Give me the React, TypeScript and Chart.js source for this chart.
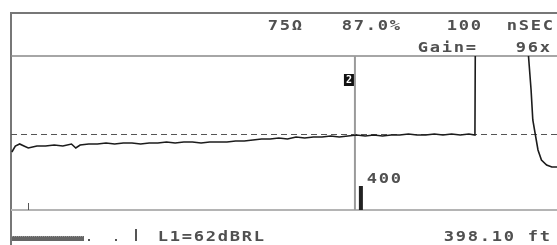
import { useEffect, useRef } from "react";
import { Chart, registerables } from "chart.js";

Chart.register(...registerables);

// Distance along the cable (ft) and reflection amplitude (screen units, 0 = reference level)
const distanceFt = [
  1, 5, 10, 15, 20, 25, 30, 40, 50, 60, 70, 75, 80, 90, 100, 110, 120, 130, 140, 150,
  160, 170, 180, 190, 200, 210, 220, 230, 240, 250, 260, 270, 280, 290, 300, 310, 320,
  330, 340, 350, 360, 370, 380, 390, 400, 410, 420, 430, 440, 450, 460, 470, 480, 490,
  500, 510, 520, 530, 537, 538, 597, 599, 602, 604, 607, 610, 614, 620, 626, 632,
];
const reflection = [
  -18, -12, -10, -12, -14, -13, -12, -12, -11, -12, -10, -14, -11, -10, -10, -9, -10, -9, -9, -10,
  -9, -9, -8, -9, -8, -8, -9, -8, -8, -8, -7, -7, -6, -5, -5, -4, -5,
  -3, -4, -3, -3, -2, -3, -2, -1, -2, -1, -2, -1, -1, 0, -1, -1, 0,
  -1, 0, -1, 0, -1, 200, 200, 78, 44, 14, -1, -16, -26, -31, -33, -33,
];

const xRange = [0, 632];
const yRange = [-76, 78];
const referenceLevel = 0;
const cursorFt = 398.1;
const distanceMarkerFt = 405;
const distanceMarkerLabel = "400";
const startTickFt = 20;
const cursorTag = "2";

const headerTop = [
  { text: "75Ω", x: 268 },
  { text: "87.0%", x: 342 },
  { text: "100", x: 447 },
  { text: "nSEC", x: 507 },
];
const headerBottom = [
  { text: "Gain=", x: 418 },
  { text: "96x", x: 516 },
];
const footerLeft = "L1=62dBRL";
const footerRight = "398.10 ft";

const FONT = "bold 14px 'DejaVu Sans Mono'";
const CELL = 12;

function drawMono(ctx: CanvasRenderingContext2D, text: string, x: number, y: number, color = "#505050") {
  ctx.save();
  ctx.font = FONT;
  ctx.fillStyle = color;
  ctx.textAlign = "center";
  ctx.textBaseline = "alphabetic";
  Array.from(text).forEach((ch, i) => {
    ctx.save();
    ctx.translate(x + i * CELL + CELL / 2 - 1, y);
    ctx.scale(1.22, 1);
    ctx.fillText(ch, 0, 0);
    ctx.restore();
  });
  ctx.restore();
}

const screenPlugin = {
  id: "tdrScreen",
  beforeDatasetsDraw(chart: any) {
    const { ctx, chartArea } = chart;
    const xs = chart.scales.x;
    const ys = chart.scales.y;
    const W = chart.width;
    const H = chart.height;
    ctx.save();
    ctx.strokeStyle = "#777";
    ctx.lineWidth = 2;
    ctx.beginPath();
    ctx.moveTo(11, H);
    ctx.lineTo(11, 13);
    ctx.lineTo(W, 13);
    ctx.stroke();
    ctx.strokeStyle = "#888";
    ctx.lineWidth = 1.5;
    ctx.beginPath();
    ctx.moveTo(11, chartArea.top);
    ctx.lineTo(W, chartArea.top);
    ctx.stroke();
    ctx.strokeStyle = "#b4b4b4";
    ctx.lineWidth = 2;
    ctx.beginPath();
    ctx.moveTo(11, chartArea.bottom);
    ctx.lineTo(W, chartArea.bottom);
    ctx.stroke();
    const yRef = ys.getPixelForValue(referenceLevel);
    ctx.strokeStyle = "#555";
    ctx.lineWidth = 1;
    ctx.setLineDash([6, 4]);
    ctx.beginPath();
    ctx.moveTo(chartArea.left, yRef + 0.5);
    ctx.lineTo(chartArea.right, yRef + 0.5);
    ctx.stroke();
    ctx.setLineDash([]);
    const cx = xs.getPixelForValue(cursorFt);
    ctx.strokeStyle = "#9a9a9a";
    ctx.lineWidth = 2;
    ctx.beginPath();
    ctx.moveTo(cx, chartArea.top);
    ctx.lineTo(cx, chartArea.bottom);
    ctx.stroke();
    ctx.restore();
  },
  afterDatasetsDraw(chart: any) {
    const { ctx, chartArea } = chart;
    const xs = chart.scales.x;
    ctx.save();
    const cx = xs.getPixelForValue(cursorFt);
    ctx.fillStyle = "#111";
    ctx.fillRect(cx - 11, chartArea.top + 18, 10, 12);
    ctx.fillStyle = "#fff";
    ctx.font = "bold 10px 'DejaVu Sans Mono'";
    ctx.textAlign = "center";
    ctx.textBaseline = "middle";
    ctx.fillText(cursorTag, cx - 6, chartArea.top + 24.5);
    const mx = xs.getPixelForValue(distanceMarkerFt);
    ctx.fillStyle = "#222";
    ctx.fillRect(mx - 2, chartArea.bottom - 24, 4, 24);
    drawMono(ctx, distanceMarkerLabel, mx + 6, chartArea.bottom - 27);
    const sx = xs.getPixelForValue(startTickFt);
    ctx.fillStyle = "#555";
    ctx.fillRect(Math.round(sx), chartArea.bottom - 7, 1, 7);
    headerTop.forEach((t) => drawMono(ctx, t.text, t.x, 30));
    headerBottom.forEach((t) => drawMono(ctx, t.text, t.x, 52));
    ctx.fillStyle = "#666";
    ctx.fillRect(12, 236, 72, 5);
    ctx.fillStyle = "#999";
    for (let i = 12; i < 84; i += 2) ctx.fillRect(i, 236, 1, 1);
    ctx.fillStyle = "#555";
    ctx.fillRect(88, 239, 2, 2);
    ctx.fillRect(115, 239, 2, 2);
    ctx.fillRect(135, 229, 2, 12);
    drawMono(ctx, footerLeft, 158, 241);
    drawMono(ctx, footerRight, 444, 241);
    ctx.restore();
  },
};

export default function App() {
  const ref = useRef<HTMLCanvasElement | null>(null);
  useEffect(() => {
    const canvas = ref.current;
    if (!canvas) return;
    const chart = new Chart(canvas, {
      type: "line",
      data: {
        datasets: [
          {
            data: distanceFt.map((d, i) => ({ x: d, y: reflection[i] })),
            borderColor: "#1c1c1c",
            borderWidth: 1.6,
            pointRadius: 0,
            tension: 0,
            fill: false,
          },
        ],
      },
      options: {
        responsive: false,
        animation: false,
        devicePixelRatio: 1,
        layout: { padding: { left: 11, top: 56, right: 0, bottom: 35 } },
        plugins: { legend: { display: false }, tooltip: { enabled: false } },
        scales: {
          x: { type: "linear", min: xRange[0], max: xRange[1], display: false },
          y: { type: "linear", min: yRange[0], max: yRange[1], display: false },
        },
      },
      plugins: [screenPlugin],
    });
    return () => chart.destroy();
  }, []);
  return (
    <div style={{ position: "fixed", left: 0, top: 0, width: 557, height: 245, background: "#fff" }}>
      <canvas ref={ref} width={557} height={245} style={{ display: "block", width: 557, height: 245 }} />
    </div>
  );
}
